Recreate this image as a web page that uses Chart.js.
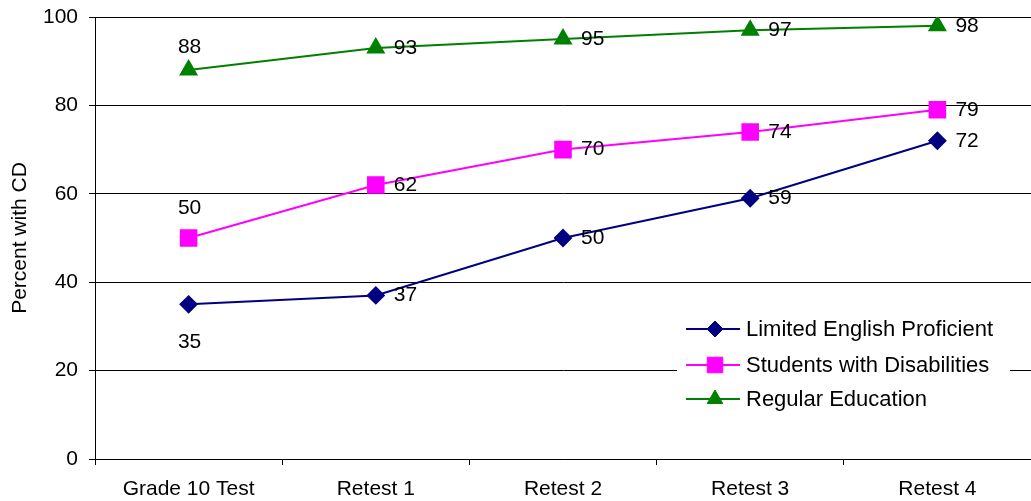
<!DOCTYPE html>
<html><head><meta charset="utf-8">
<script src="https://cdn.jsdelivr.net/npm/chart.js@4.4.0/dist/chart.umd.min.js"></script>
<style>html,body{margin:0;padding:0;background:#fff}canvas{display:block}</style>
</head><body>
<canvas id="c" width="1031" height="501"></canvas>
<script>
const categories = ["Grade 10 Test", "Retest 1", "Retest 2", "Retest 3", "Retest 4"];
const lepValues = [35, 37, 50, 59, 72];
const swdValues = [50, 62, 70, 74, 79];
const regValues = [88, 93, 95, 97, 98];
const yTicks = [0, 20, 40, 60, 80, 100];
const seriesNames = ["Limited English Proficient", "Students with Disabilities", "Regular Education"];
const yTitle = "Percent with CD";
// label placement per series for first point: 'below' / 'above'
const firstLabelPos = ["below", "above", "above"];

const FONT = "'Liberation Sans', Arial, sans-serif";

const labelPlugin = {
  id: 'valueLabels',
  afterDatasetsDraw(chart) {
    const ctx = chart.ctx;
    ctx.save();
    ctx.font = "21px " + FONT;
    ctx.fillStyle = "#000";
    chart.data.datasets.forEach((ds, di) => {
      const meta = chart.getDatasetMeta(di);
      meta.data.forEach((pt, i) => {
        const v = ds.data[i];
        ctx.textBaseline = "middle";
        if (i === 0) {
          ctx.textAlign = "center";
          const dy = firstLabelPos[di] === "below" ? 38 : (di === 1 ? -30 : -23);
          ctx.fillText(String(v), pt.x + 1, pt.y + dy);
        } else {
          ctx.textAlign = "left";
          ctx.fillText(String(v), pt.x + 18, pt.y);
        }
      });
    });
    ctx.restore();
  }
};

const titlePlugin = {
  id: 'yTitle',
  afterDraw(chart) {
    const ctx = chart.ctx;
    const area = chart.chartArea;
    ctx.save();
    ctx.font = "21px " + FONT;
    ctx.fillStyle = "#000";
    ctx.textAlign = "center";
    ctx.textBaseline = "middle";
    ctx.translate(20, (area.top + area.bottom) / 2);
    ctx.rotate(-Math.PI / 2);
    ctx.fillText(yTitle, 0, 0);
    ctx.restore();
  }
};

const legendPlugin = {
  id: 'insideLegend',
  afterDraw(chart) {
    const ctx = chart.ctx;
    const area = chart.chartArea;
    ctx.save();
    const x0 = area.left + 582, y0 = area.top + 293, w = 333, h = 105;
    ctx.fillStyle = "#fff";
    ctx.fillRect(x0, y0, w, h);
    ctx.font = "22px " + FONT;
    ctx.textBaseline = "middle";
    ctx.textAlign = "left";
    const rowY = [329, 365, 399].map(y => y - 17 + area.top);
    chart.data.datasets.forEach((ds, di) => {
      const y = rowY[di];
      const lx = x0 + 9;
      ctx.strokeStyle = ds.borderColor;
      ctx.lineWidth = 2;
      ctx.beginPath(); ctx.moveTo(lx, y); ctx.lineTo(lx + 54, y); ctx.stroke();
      ctx.fillStyle = ds.pointBackgroundColor;
      ctx.strokeStyle = ds.pointBorderColor;
      ctx.lineWidth = 1;
      Chart.helpers.drawPoint(ctx, {pointStyle: ds.pointStyle, radius: ds.pointRadius, rotation: 0, borderWidth: 1}, lx + 29, y);
      ctx.fillStyle = "#000";
      ctx.fillText(ds.label, lx + 60, y + 1);
    });
    ctx.restore();
  }
};

new Chart(document.getElementById('c'), {
  type: 'line',
  data: {
    labels: categories,
    datasets: [
      { label: seriesNames[0], data: lepValues, borderColor: '#000080', backgroundColor: '#000080',
        pointBackgroundColor: '#000080', pointBorderColor: '#000080', pointStyle: 'rectRot', pointRadius: 8, borderWidth: 2, tension: 0 },
      { label: seriesNames[1], data: swdValues, borderColor: '#FF00FF', backgroundColor: '#FF00FF',
        pointBackgroundColor: '#FF00FF', pointBorderColor: '#FF00FF', pointStyle: 'rect', pointRadius: 11, borderWidth: 2, tension: 0 },
      { label: seriesNames[2], data: regValues, borderColor: '#008000', backgroundColor: '#008000',
        pointBackgroundColor: '#008000', pointBorderColor: '#008000', pointStyle: 'triangle', pointRadius: 9, borderWidth: 2, tension: 0 }
    ]
  },
  options: {
    responsive: false,
    animation: false,
    devicePixelRatio: 1,
    layout: { autoPadding: false, padding: { top: 17, right: 0, bottom: 0, left: 0 } },
    plugins: { legend: { display: false }, tooltip: { enabled: false } },
    scales: {
      x: {
        offset: true,
        afterFit(axis) { axis.height = 42; },
        grid: { offset: true, drawOnChartArea: false, drawTicks: true, tickLength: 6, color: '#000' },
        border: { display: true, color: '#000', width: 1 },
        ticks: { color: '#000', font: { family: FONT, size: 21 }, padding: 12, maxRotation: 0, autoSkip: false }
      },
      y: {
        min: 0, max: 100,
        afterFit(axis) { axis.width = 95; axis.paddingTop = 0; axis.paddingBottom = 0; },
        afterBuildTicks(axis) { axis.ticks = yTicks.map(v => ({ value: v })); },
        grid: { color: '#000', lineWidth: 1, drawTicks: true, tickLength: 6 },
        border: { display: true, color: '#000', width: 1 },
        ticks: { color: '#000', font: { family: FONT, size: 21 }, padding: 11 },
        title: { display: false }
      }
    }
  },
  plugins: [labelPlugin, legendPlugin, titlePlugin]
});
</script>
</body></html>
